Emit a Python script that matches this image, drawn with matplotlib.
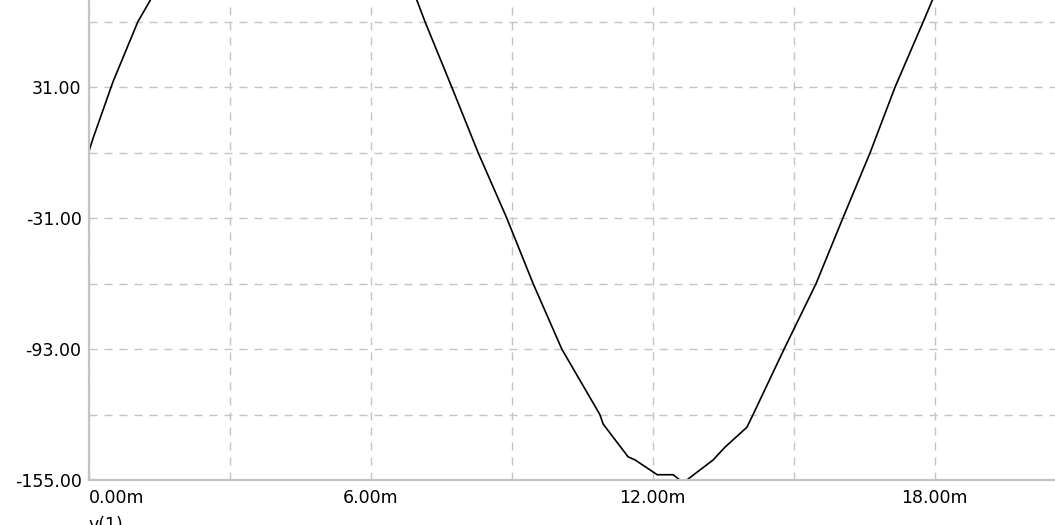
import numpy as np
import matplotlib
matplotlib.use("Agg")
import matplotlib.pyplot as plt

# transient trace v(1), time in ms
t_ms = [0, 0.1, 0.52, 1.05, 1.31, 2.0, 3.0, 4.15, 5.3, 6.3, 6.99, 7.16, 7.73,
        8.29, 8.9, 9.46, 10.07, 10.88, 10.95, 11.48, 11.63, 12.1, 12.44, 12.58,
        12.73, 13.29, 13.54, 14.01, 14.14, 14.8, 15.48, 16.05, 16.63, 17.16,
        17.76, 17.95, 19.0, 20.0, 20.8]
v1 = [0, 7, 33.5, 62, 72, 106, 140, 155, 140, 106, 72, 62, 31, 0, -31, -62,
      -93, -124, -128.5, -144, -145.5, -152.5, -152.5, -155, -155, -145.5,
      -139.5, -130, -124, -93, -62, -31, 0, 31, 62, 72, 121, 148, 155]

y_grid = [-155, -124, -93, -62, -31, 0, 31, 62]
y_labels = ["-155.00", "", "-93.00", "", "-31.00", "", "31.00", ""]
x_grid = [0, 3, 6, 9, 12, 15, 18]
x_label_pos = [0, 6, 12, 18]
x_labels = ["0.00m", "6.00m", "12.00m", "18.00m"]
trace_name = "v(1)"

plt.rcParams["font.family"] = ["DejaVu Sans"]
plt.rcParams["lines.scale_dashes"] = False
fs = 12.5
gcol = "#c4c4c4"

W, H = 1055, 525
fig = plt.figure(figsize=(W / 100, H / 100), dpi=100)
ax = fig.add_axes([88.5 / W, 45 / H, (W - 88.5) / W, 480 / H])

ax.plot(t_ms, v1, color="black", lw=1.2)
ax.set_xlim(0, (W - 88.5) / 47.0)
ax.set_ylim(-155, 72.3)

ax.set_xticks(x_grid)
ax.set_xticklabels([])
ax.set_yticks(y_grid)
ax.set_yticklabels(y_labels, fontsize=fs)
ax.tick_params(length=0, pad=5)
ax.grid(True, color=gcol, lw=1.0, linestyle=(0, (5.8, 5.0)))

for s in ["top", "right"]:
    ax.spines[s].set_visible(False)
for s in ["left", "bottom"]:
    ax.spines[s].set_color(gcol)
    ax.spines[s].set_linewidth(1.6)
    ax.spines[s].set_zorder(3)

for i, (xp, lab) in enumerate(zip(x_label_pos, x_labels)):
    ax.text(xp, -0.018, lab, transform=ax.get_xaxis_transform(),
            ha="left" if i == 0 else "center", va="top", fontsize=fs)

fig.text(88 / W, 1 - 516 / H, trace_name, ha="left", va="top", fontsize=fs)

fig.savefig("out.png", dpi=100)
